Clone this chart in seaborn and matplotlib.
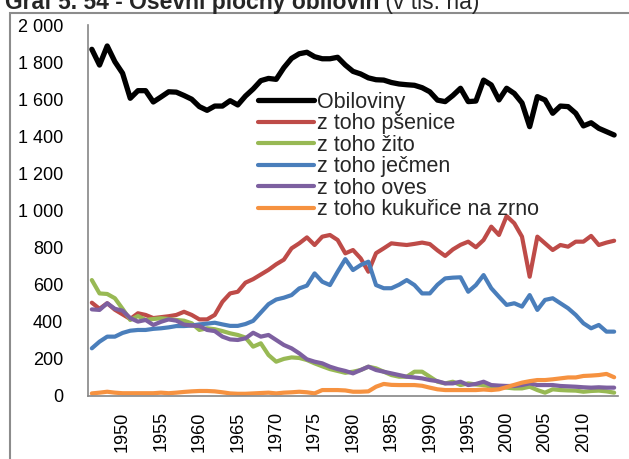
import matplotlib
matplotlib.use('Agg')
import matplotlib.pyplot as plt
import seaborn as sns
import pandas as pd
from matplotlib.patches import Rectangle
from matplotlib.ticker import FuncFormatter, MultipleLocator

years = list(range(1946, 2015))

obiloviny = [1869, 1784, 1887, 1802, 1740, 1605, 1646, 1646, 1585, 1612,
             1640, 1638, 1620, 1600, 1560, 1540, 1563, 1563, 1592, 1569,
             1617, 1655, 1700, 1712, 1707, 1770, 1820, 1845, 1853, 1829,
             1818, 1818, 1826, 1784, 1750, 1736, 1715, 1705, 1703, 1690,
             1682, 1678, 1675, 1662, 1640, 1595, 1587, 1620, 1659, 1587,
             1590, 1703, 1677, 1596, 1659, 1631, 1580, 1452, 1614, 1596,
             1524, 1563, 1560, 1524, 1456, 1473, 1443, 1425, 1407]
psenice = [503, 470, 500, 465, 440, 415, 446, 437, 420, 425,
           430, 437, 454, 437, 413, 413, 437, 508, 553, 562,
           611, 630, 655, 680, 710, 735, 796, 823, 855, 814,
           859, 868, 841, 769, 787, 742, 670, 770, 796, 823,
           818, 814, 820, 827, 819, 785, 755, 790, 815, 832,
           802, 841, 913, 868, 970, 931, 859, 643, 859, 823,
           787, 814, 805, 832, 832, 863, 814, 827, 837]
zito = [625, 553, 550, 527, 470, 410, 431, 410, 415, 419,
        415, 410, 406, 392, 356, 365, 360, 350, 338, 329,
        315, 266, 284, 221, 185, 200, 208, 205, 194, 176,
        160, 145, 135, 125, 131, 140, 158, 149, 131, 113,
        104, 104, 131, 131, 104, 77, 68, 77, 59, 68,
        62, 59, 50, 50, 45, 41, 41, 50, 32, 18,
        36, 32, 30, 29, 23, 27, 29, 25, 18]
jecmen = [257, 293, 320, 320, 340, 352, 356, 356, 362, 365,
          370, 377, 377, 380, 386, 390, 395, 386, 378, 378,
          388, 405, 450, 495, 520, 530, 544, 580, 595, 661,
          616, 598, 670, 738, 679, 706, 724, 598, 581, 581,
          600, 625, 598, 553, 553, 600, 634, 638, 640, 562,
          598, 652, 581, 535, 491, 500, 482, 544, 464, 518,
          527, 500, 473, 437, 392, 365, 383, 347, 347]
oves = [467, 464, 500, 470, 460, 420, 401, 410, 383, 400,
        413, 406, 385, 380, 377, 356, 350, 320, 305, 302,
        311, 341, 320, 329, 302, 275, 257, 230, 198, 185,
        176, 158, 145, 135, 122, 140, 158, 140, 131, 122,
        113, 104, 100, 95, 86, 80, 68, 68, 77, 59,
        65, 77, 59, 56, 54, 54, 59, 68, 59, 59,
        59, 54, 52, 50, 47, 45, 47, 45, 45]
kukurice = [14, 18, 23, 18, 15, 15, 15, 15, 15, 18,
            15, 18, 22, 25, 27, 27, 25, 20, 14, 12,
            12, 14, 16, 18, 14, 18, 20, 23, 20, 14,
            32, 32, 32, 30, 23, 23, 25, 50, 65, 60,
            59, 59, 59, 55, 45, 36, 32, 32, 32, 32,
            32, 35, 32, 36, 48, 60, 72, 80, 86, 86,
            90, 95, 100, 100, 108, 110, 113, 119, 101]

labels = ['Obiloviny', 'z toho pšenice', 'z toho žito', 'z toho ječmen',
          'z toho oves', 'z toho kukuřice na zrno']
colors = ['#000000', '#BE4B48', '#98B954', '#4A7EBB', '#7D60A0', '#F69240']
widths = [3.8, 3.0, 3.0, 3.0, 3.0, 3.0]
series = [obiloviny, psenice, zito, jecmen, oves, kukurice]

sns.set_style('white')
plt.rcParams['font.family'] = ['Liberation Sans', 'DejaVu Sans']

fig = plt.figure(figsize=(6.29, 4.59), dpi=100)
ax = fig.add_axes([88 / 629, 1 - 396 / 459, 530 / 629, 371 / 459])

for lab, vals, col, lw in zip(labels, series, colors, widths):
    df = pd.DataFrame({'rok': years, 'plocha': vals})
    sns.lineplot(data=df, x='rok', y='plocha', color=col, linewidth=lw,
                 label=lab, ax=ax, solid_capstyle='round', solid_joinstyle='round')

ax.set_xlim(1945.5, 2014.5)
ax.set_ylim(0, 2000)
ax.set_xlabel('')
ax.set_ylabel('')

ax.yaxis.set_major_locator(MultipleLocator(200))
ax.yaxis.set_major_formatter(FuncFormatter(lambda v, p: f'{v:,.0f}'.replace(',', ' ')))
ax.set_xticks(list(range(1950, 2011, 5)))
ax.set_xticks([y + 0.5 for y in range(1945, 2015)], minor=True)
ax.tick_params(axis='x', which='major', length=0, pad=11, labelsize=13,
               labelrotation=90, labelcolor='#000000')
ax.tick_params(axis='x', which='minor', length=4, width=1, color='#868686', direction='out')
ax.tick_params(axis='y', length=4, width=1, color='#868686', direction='out', pad=14,
               labelsize=13, labelcolor='#000000')

for s in ['top', 'right']:
    ax.spines[s].set_visible(False)
for s in ['left', 'bottom']:
    ax.spines[s].set_color('#868686')
    ax.spines[s].set_linewidth(1.2)

leg = ax.legend(loc='upper left', bbox_to_anchor=(258 / 629, 1 - 92 / 459),
                bbox_transform=fig.transFigure, frameon=False, fontsize=15.5,
                handlelength=2.6, handletextpad=0.15, labelspacing=0.02,
                borderaxespad=0, borderpad=0)
for h in leg.get_lines():
    h.set_solid_capstyle('round')

# outer chart border (partly out of the picture)
fig.add_artist(Rectangle((10 / 629, -0.1), 1.2, (459 - 13) / 459 + 0.1,
                         transform=fig.transFigure, fill=False,
                         edgecolor='#8C8C8C', linewidth=1.5, clip_on=False))

# title, its top is cut off by the picture edge
t1 = fig.text(5 / 629, 1 - 9 / 459, 'Graf 5. 54 - Osevní plochy obilovin',
              fontsize=16.5, fontweight='bold', va='baseline', ha='left')
fig.canvas.draw()
bb = t1.get_window_extent()
fig.text(bb.x1 / fig.bbox.width, 1 - 9 / 459, ' (v tis. ha)',
         fontsize=16.5, va='baseline', ha='left')

fig.savefig('out.png', dpi=100)
